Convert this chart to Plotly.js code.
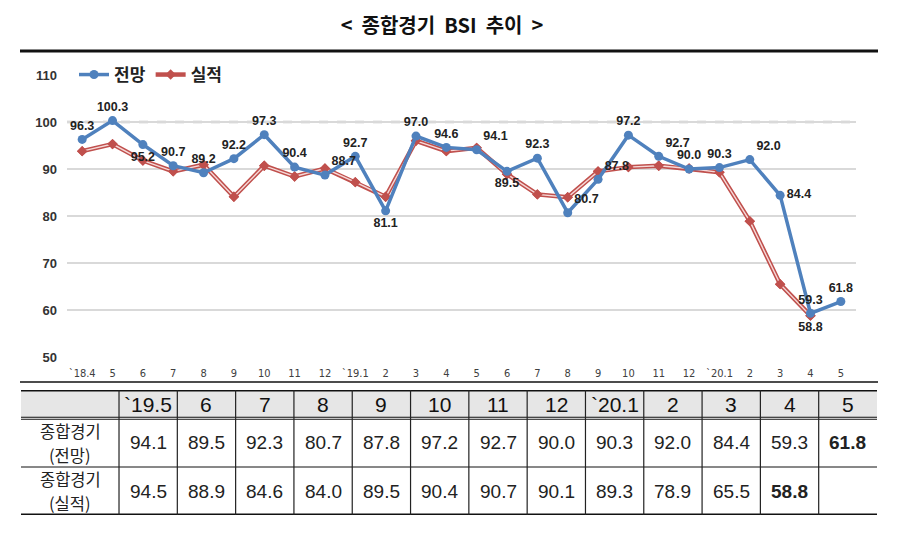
<!DOCTYPE html>
<html>
<head>
<meta charset="utf-8">
<script src="https://cdn.plot.ly/plotly-3.0.1.min.js"></script>
<style>
  body { margin: 0; background: #fff; }
  #chart { width: 906px; height: 537px; }
</style>
</head>
<body>
<div id="chart"></div>
<script>
// months '18.4 ~ '20.5
const months = ['`18.4', '5', '6', '7', '8', '9', '10', '11', '12', '`19.1', '2', '3', '4', '5', '6', '7', '8', '9', '10', '11', '12', '`20.1', '2', '3', '4', '5'];
const outlook = [96.3, 100.3, 95.2, 90.7, 89.2, 92.2, 97.3, 90.4, 88.7, 92.7, 81.1, 97.0, 94.6, 94.1, 89.5, 92.3, 80.7, 87.8, 97.2, 92.7, 90.0, 90.3, 92.0, 84.4, 59.3, 61.8];
const actual = [93.8, 95.3, 91.8, 89.5, 90.9, 84.1, 90.7, 88.4, 90.1, 87.2, 84.1, 96.0, 93.8, 94.5, 88.9, 84.6, 84.0, 89.5, 90.4, 90.7, 90.1, 89.3, 78.9, 65.5, 58.8, null];
const tableHead = ['`19.5', '6', '7', '8', '9', '10', '11', '12', '`20.1', '2', '3', '4', '5'];
const rowNames = [['종합경기', '(전망)'], ['종합경기', '(실적)']];

const W = 906, H = 537;
const px = x => x / W;
const py = y => 1 - y / H;

const idx = months.map((m, i) => i);

// label placement for the outlook series
const labelPos = ['top center', 'top center', 'bottom center', 'top center', 'top center', 'top center',
  'top center', 'top center', 'top right', 'top center', 'bottom center', 'top center', 'top center',
  'top right', 'bottom center', 'top center', 'top right', 'top right', 'top center', 'top right',
  'top center', 'top center', 'top right', 'middle right', 'top center', 'top center'];

const lastIdx = actual.length - 2;
const actualText = actual.map((v, i) => i === lastIdx ? v.toFixed(1) : '');

const red = '#C0504D';
const blue = '#4F81BD';
const labelFont = { family: 'Liberation Sans', size: 12.5, color: '#222', weight: 'bold' };

const traces = [
  {
    x: idx, y: actual, name: '실적', mode: 'lines+markers',
    line: { color: red, width: 4.5 },
    marker: { symbol: 'diamond', size: 8, color: red },
    legendrank: 2
  },
  {
    x: idx, y: actual, mode: 'lines', showlegend: false,
    line: { color: '#F6D9D8', width: 1.4 }
  },
  {
    x: idx, y: actual, mode: 'markers+text', showlegend: false,
    marker: { symbol: 'diamond', size: 8, color: red },
    text: actualText, textposition: 'bottom center', textfont: labelFont,
    cliponaxis: false
  },
  {
    x: idx, y: outlook, name: '전망', mode: 'lines+markers+text',
    line: { color: blue, width: 3.5 },
    marker: { symbol: 'circle', size: 9, color: blue },
    text: outlook.map(v => v.toFixed(1)), textposition: labelPos, textfont: labelFont,
    cliponaxis: false, legendrank: 1
  }
];

// table, drawn on its own hidden axes: columns in units of one month column
const firstCol = 98 / 58.3;
const rowEdges = [0, 28, 77, 125];
const rowMid = i => (rowEdges[i] + rowEdges[i + 1]) / 2;
const first = months.length - tableHead.length;

const shapes = [
  { type: 'line', xref: 'x', yref: 'y', x0: -0.5, x1: months.length - 0.5, y0: 100, y1: 100,
    line: { color: '#BFBFBF', width: 2.5, dash: 'dash' }, layer: 'below' },
  { type: 'line', xref: 'paper', yref: 'paper', x0: px(20), x1: px(878), y0: py(51), y1: py(51),
    line: { color: '#111', width: 3 } },
  { type: 'line', xref: 'paper', yref: 'paper', x0: px(20), x1: px(878), y0: py(382), y1: py(382),
    line: { color: '#111', width: 1.5 } },
  { type: 'rect', xref: 'x2', yref: 'y2', x0: -firstCol, x1: tableHead.length, y0: rowEdges[0], y1: rowEdges[1],
    fillcolor: '#E6E6E6', line: { width: 0 }, layer: 'below' }
];
const hline = (y, w) => ({ type: 'line', xref: 'x2', yref: 'y2', x0: -firstCol, x1: tableHead.length,
  y0: y, y1: y, line: { color: '#111', width: w } });
shapes.push(hline(rowEdges[0], 3), hline(rowEdges[1] - 0.8, 1.1), hline(rowEdges[1] + 1.2, 1.1),
  hline(rowEdges[2], 1), hline(rowEdges[3], 3));
for (let c = 0; c < tableHead.length; c++) {
  shapes.push({ type: 'line', xref: 'x2', yref: 'y2', x0: c, x1: c, y0: rowEdges[0], y1: rowEdges[3],
    line: { color: '#222', width: 1.2 } });
}

const annotations = [];
const cellFont = { family: 'Liberation Sans', size: 19, color: '#222' };
tableHead.forEach((h, c) => {
  annotations.push({ xref: 'x2', yref: 'y2', x: c + 0.5, y: rowMid(0), text: h, showarrow: false,
    font: { family: 'Liberation Sans', size: 21, color: '#111' } });
});
const fmt = (v, bold) => v == null ? '' : (bold ? '<b>' + v.toFixed(1) + '</b>' : v.toFixed(1));
[outlook, actual].forEach((series, r) => {
  rowNames[r].forEach((t, k) => {
    annotations.push({ xref: 'x2', yref: 'y2', x: -firstCol / 2, y: rowMid(r + 1) + (k ? 12 : -12),
      text: t, showarrow: false, borderpad: 0,
      font: { family: 'Noto Sans CJK KR', size: 16.5, color: '#222' } });
  });
  for (let i = first; i < months.length; i++) {
    const bold = r === 0 ? i === months.length - 1 : i === lastIdx;
    annotations.push({ xref: 'x2', yref: 'y2', x: i - first + 0.5, y: rowMid(r + 1),
      text: fmt(series[i], bold), showarrow: false, font: cellFont });
  }
});

const layout = {
  width: W, height: H, autosize: false,
  margin: { l: 0, r: 0, t: 0, b: 0 },
  paper_bgcolor: '#fff', plot_bgcolor: '#fff',
  title: {
    text: '<\u00a0\u00a0종합경기\u00a0\u00a0BSI\u00a0\u00a0추이\u00a0\u00a0>',
    x: px(442), xanchor: 'center', y: py(26), yanchor: 'middle',
    font: { family: 'Noto Sans CJK KR', size: 20, color: '#111', weight: 'bold' }
  },
  showlegend: true,
  legend: {
    orientation: 'h', x: px(74), y: py(57), yanchor: 'top', xanchor: 'left',
    font: { family: 'Noto Sans CJK KR', size: 17, color: '#222', weight: 'bold' },
    itemwidth: 30, bgcolor: 'rgba(0,0,0,0)'
  },
  xaxis: {
    domain: [px(67), px(856)], range: [-0.5, months.length - 0.5],
    tickmode: 'array', tickvals: idx, ticktext: months,
    tickfont: { family: 'DejaVu Sans Condensed', size: 11, color: '#404040' },
    ticklabelstandoff: 8,
    showgrid: false, zeroline: false, showline: false, ticks: '', fixedrange: true
  },
  yaxis: {
    domain: [py(357), py(75)], range: [50, 110], dtick: 10,
    gridcolor: '#D9D9D9', gridwidth: 1.5, zeroline: false, showline: false, ticks: '',
    tickfont: { family: 'Liberation Sans', size: 13, color: '#333', weight: 'bold' },
    ticklabelstandoff: 9, fixedrange: true
  },
  xaxis2: {
    domain: [px(21), px(877)], range: [-firstCol, tableHead.length], anchor: 'y2',
    visible: false, fixedrange: true
  },
  yaxis2: {
    domain: [py(515), py(390)], range: [rowEdges[3], rowEdges[0]], anchor: 'x2',
    visible: false, fixedrange: true
  },
  shapes: shapes,
  annotations: annotations
};

Plotly.newPlot('chart', traces, layout, { displayModeBar: false, staticPlot: true });
</script>
</body>
</html>
